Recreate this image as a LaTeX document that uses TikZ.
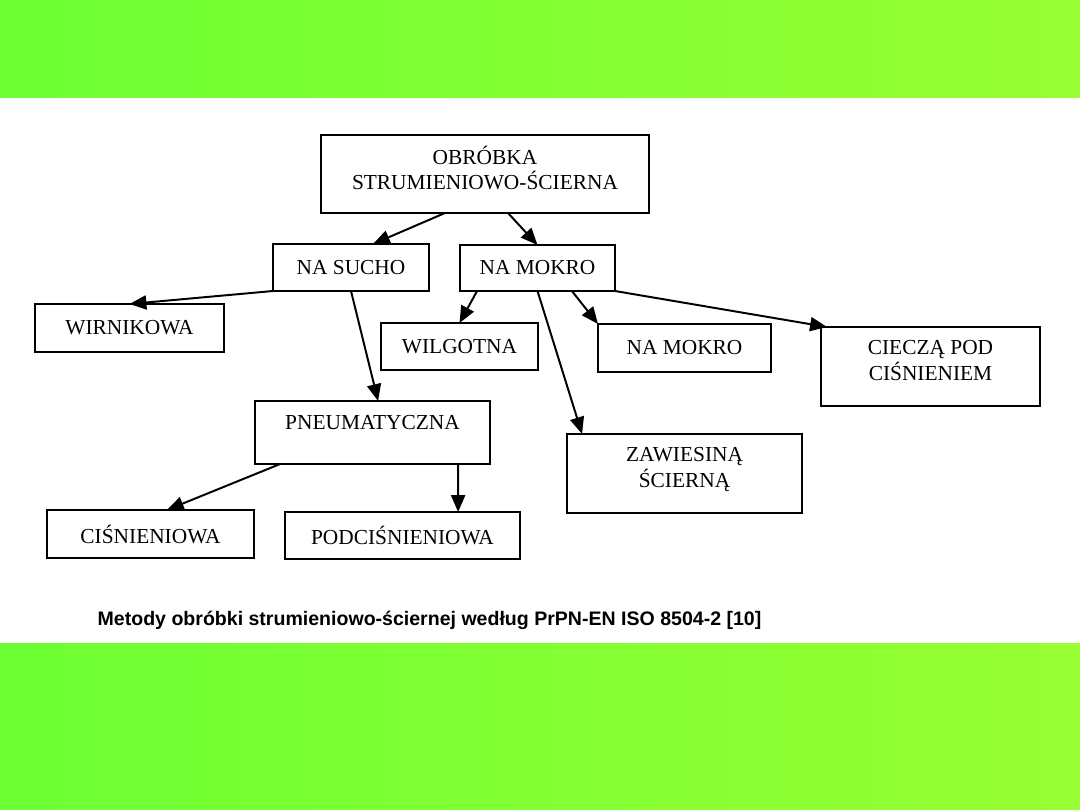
\documentclass[tikz,border=0pt]{standalone}
\usepackage{fontspec}
\setmainfont{Liberation Serif}
\newfontfamily\capfont{Liberation Sans}
\usepackage{xcolor}
\usepackage{tikz}
\usetikzlibrary{arrows.meta}
\definecolor{zielonyL}{RGB}{108,255,51}
\definecolor{zielonyP}{RGB}{152,255,51}
\tikzset{
  pudlo/.style={draw, line width=1.5pt, inner sep=0pt, outer sep=0pt, align=center,
    font=\fontsize{15.2}{18}\selectfont, minimum width=#1},
  strzalka/.style={-{Triangle[length=12pt,width=10pt]}, line width=1.4pt},
}

\begin{document}
\begin{tikzpicture}[x=0.025cm, y=-0.025cm]
  \useasboundingbox (0,0) rectangle (1080,810);
  \shade[left color=zielonyL, right color=zielonyP] (0,0) rectangle (1080,810);
  \fill[white] (0,98) rectangle (1080,643);
  % drzewo metod
  \node[pudlo=8.2cm, minimum height=1.95cm, text depth=0.3cm] (obr) at (485,174) {OBRÓBKA\\STRUMIENIOWO-ŚCIERNA};
  \node[pudlo=3.9cm, minimum height=1.175cm] (sucho) at (351,267.5) {NA SUCHO};
  \node[pudlo=3.875cm, minimum height=1.15cm] (mokro) at (537.5,268) {NA MOKRO};
  \node[pudlo=4.725cm, minimum height=1.2cm] (wirn) at (129.5,328) {WIRNIKOWA};
  \node[pudlo=3.925cm, minimum height=1.175cm] (wilg) at (459.5,346.5) {WILGOTNA};
  \node[pudlo=5.875cm, minimum height=1.575cm, text height=0.375cm, text depth=0.525cm] (pneu) at (372.5,432.5) {PNEUMATYCZNA};
  \node[pudlo=4.325cm, minimum height=1.2cm] (mokro2) at (684.5,348) {NA MOKRO};
  \node[pudlo=5.475cm, minimum height=1.975cm, text depth=0.3cm] (ciecz) at (930.5,366.5) {CIECZĄ POD\\CIŚNIENIEM};
  \node[pudlo=5.875cm, minimum height=1.975cm, text depth=0.3cm] (zaw) at (684.5,473.5) {ZAWIESINĄ\\ŚCIERNĄ};
  \node[pudlo=5.175cm, minimum height=1.2cm] (cisn) at (150.5,534) {CIŚNIENIOWA};
  \node[pudlo=5.875cm, minimum height=1.175cm] (podc) at (402.5,535.5) {PODCIŚNIENIOWA};
  \node[font=\capfont\bfseries\fontsize{13.9}{16}\selectfont] (podpis) at (429.5,620)
    {Metody obróbki strumieniowo-ściernej według PrPN-EN ISO 8504-2 [10]};
  % strzalki
  \draw[strzalka] ([xshift=-1cm]obr.south) -- ([xshift=0.55cm]sucho.north);
  \draw[strzalka] ([xshift=0.575cm]obr.south) -- (mokro.north);
  \draw[strzalka] (sucho.south west) -- (wirn.north);
  \draw[strzalka] (sucho.south) -- ([xshift=0.14cm]pneu.north);
  \draw[strzalka] ([xshift=-1.51cm]mokro.south) -- (wilg.north);
  \draw[strzalka] (mokro.south) -- ([xshift=-2.56cm]zaw.north);
  \draw[strzalka] ([xshift=0.86cm]mokro.south) -- (mokro2.north west);
  \draw[strzalka] (mokro.south east) -- ([xshift=0.15cm]ciecz.north west);
  \draw[strzalka] ([xshift=-2.31cm]pneu.south) -- ([xshift=0.41cm]cisn.north);
  \draw[strzalka] ([xshift=2.14cm]pneu.south) -- ([xshift=1.39cm]podc.north);
\end{tikzpicture}
\end{document}
